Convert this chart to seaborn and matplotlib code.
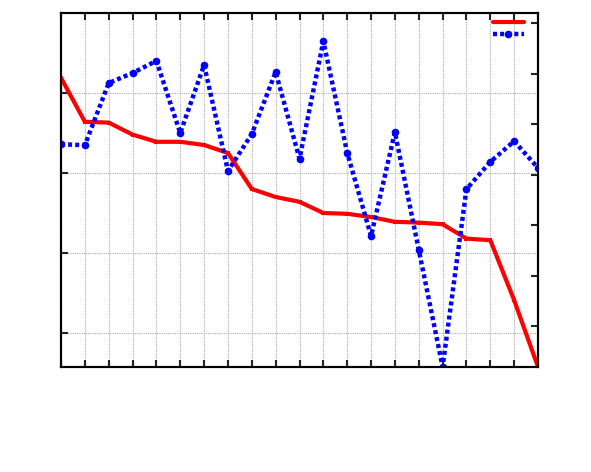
import matplotlib
matplotlib.use("Agg")
import matplotlib.pyplot as plt
import seaborn as sns
import pandas as pd
from matplotlib.lines import Line2D

x_vals = list(range(21))
red_vals = [4.19, 3.64, 3.63, 3.48, 3.39, 3.39, 3.35, 3.25, 2.80, 2.70, 2.64,
            2.50, 2.49, 2.45, 2.39, 2.38, 2.36, 2.18, 2.16, 1.41, 0.575]
blue_vals = [4.60, 4.58, 5.81, 6.01, 6.25, 4.82, 6.17, 4.07, 4.80, 6.03, 4.31,
             6.64, 4.43, 2.78, 4.84, 2.51, 0.19, 3.71, 4.25, 4.66, 4.13]
left_ticks = [1, 2, 3, 4]
right_ticks = [1, 2, 3, 4, 5, 6, 7]

sns.set_style("white")
fig = plt.figure(figsize=(5.91, 4.72), dpi=100)
ax = fig.add_axes([61/591, 1-367/472, (538-61)/591, (367-13)/472])
ax2 = ax.twinx()

df = pd.DataFrame({"x": x_vals, "red": red_vals, "blue": blue_vals})

sns.lineplot(data=df, x="x", y="red", ax=ax, color="#ff0000", lw=3,
             marker="s", markersize=2.5, markeredgewidth=0, legend=False)
sns.lineplot(data=df, x="x", y="blue", ax=ax2, color="#0000ff", lw=3.2,
             linestyle=(0, (0.9, 0.7)), marker="o", markersize=5.5,
             markeredgewidth=0, legend=False)

ax.set_xlim(0, 20)
ax.set_ylim(0.575, 5.0)
ax2.set_ylim(1 - 41/50.5, 7 + 10/50.5)
ax.set_xticks(x_vals)
ax.set_yticks(left_ticks)
ax2.set_yticks(right_ticks)

for a in (ax, ax2):
    a.set_xlabel("")
    a.set_ylabel("")
    a.set_xticklabels([])
    a.set_yticklabels([])
    for s in a.spines.values():
        s.set_color("black")
        s.set_linewidth(1.5)

ax.grid(True, color="#aaaaaa", linestyle=(0, (1, 1)), linewidth=0.8)
ax2.grid(False)
ax.set_axisbelow(True)
ax.tick_params(axis="both", direction="in", length=5, width=1.5, color="#222222",
               top=True, bottom=True, left=True, right=False,
               labelbottom=False, labelleft=False)
ax2.tick_params(axis="y", direction="in", length=5, width=1.5, color="#222222",
                right=True, left=False, labelright=False)

handles = [
    Line2D([], [], color="#ff0000", lw=3, marker="s", markersize=2.5, markeredgewidth=0),
    Line2D([], [], color="#0000ff", lw=3.2, linestyle=(0, (0.9, 0.7)),
           marker="o", markersize=5.5, markeredgewidth=0),
]
ax2.legend(handles, ["", ""], loc="upper right", frameon=False, fontsize=7,
           handlelength=3.2, handletextpad=0.0, labelspacing=0.25,
           borderaxespad=0.0, borderpad=0.0,
           bbox_to_anchor=((524-61)/477, (367-17)/354))

fig.savefig("out.png", dpi=100)
